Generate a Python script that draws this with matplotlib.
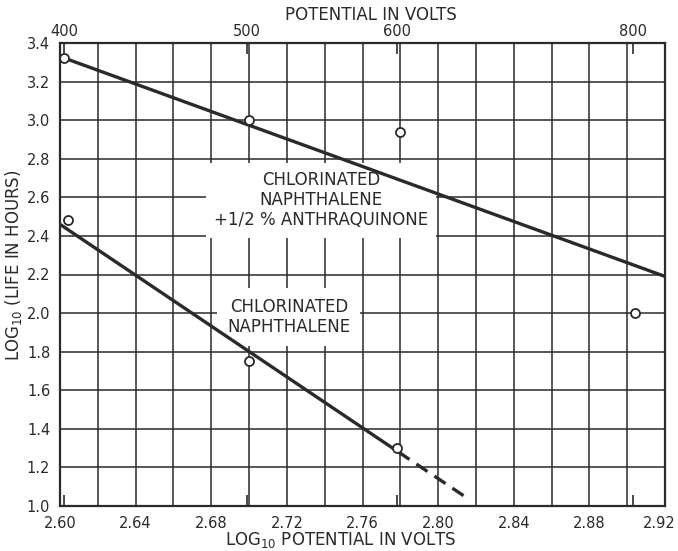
import numpy as np
import matplotlib
matplotlib.use("Agg")
import matplotlib.pyplot as plt
import matplotlib.transforms as mtransforms

# ---- data ----
# Chlorinated naphthalene + 1/2 % anthraquinone
anth_x = [2.602, 2.700, 2.780, 2.904]
anth_y = [3.32, 3.00, 2.94, 2.00]
anth_fit_x = [2.600, 2.920]
anth_fit_y = [3.33, 2.19]

# Chlorinated naphthalene
plain_x = [2.604, 2.700, 2.778]
plain_y = [2.48, 1.75, 1.30]
plain_fit_x = [2.600, 2.779]
plain_fit_y = [2.46, 1.28]
plain_ext_x = [2.779, 2.814]
plain_ext_y = [1.28, 1.05]

x_ticks = [2.60, 2.64, 2.68, 2.72, 2.76, 2.80, 2.84, 2.88, 2.92]
x_tick_labels = ["2.60", "2.64", "2.68", "2.72", "2.76", "2.80", "2.84", "2.88", "2.92"]
y_ticks = [1.0, 1.2, 1.4, 1.6, 1.8, 2.0, 2.2, 2.4, 2.6, 2.8, 3.0, 3.2, 3.4]
y_tick_labels = ["1.0", "1.2", "1.4", "1.6", "1.8", "2.0", "2.2", "2.4", "2.6", "2.8", "3.0", "3.2", "3.4"]
volts = [400, 500, 600, 800]
volt_labels = ["400", "500", "600", "800"]

# ---- style ----
ink = "#2a2a2a"
plt.rcParams['font.family'] = ['DejaVu Sans']
plt.rcParams['mathtext.fontset'] = 'dejavusans'

fig = plt.figure(figsize=(6.78, 5.51), dpi=100)
fig.patch.set_facecolor("white")
ax = fig.add_axes([60/678, 45/551, 605/678, 463/551])

ax.set_xlim(2.60, 2.92)
ax.set_ylim(1.0, 3.4)

# grid
for gx in np.arange(2.60, 2.9201, 0.02):
    ax.axvline(gx, color=ink, lw=1.1, zorder=1)
for gy in np.arange(1.0, 3.401, 0.2):
    ax.axhline(gy, color=ink, lw=1.1, zorder=1)

for s in ax.spines.values():
    s.set_color(ink)
    s.set_linewidth(1.6)
    s.set_zorder(5)

# lines
ax.plot(anth_fit_x, anth_fit_y, color=ink, lw=2.4, zorder=3, solid_capstyle='butt')
ax.plot(plain_fit_x, plain_fit_y, color=ink, lw=2.4, zorder=3, solid_capstyle='butt')
ax.plot(plain_ext_x, plain_ext_y, color=ink, lw=2.4, zorder=3, dashes=(4, 2.5))

# points
ax.plot(anth_x, anth_y, 'o', ms=6.5, mfc='white', mec=ink, mew=1.3, zorder=4, linestyle='none')
ax.plot(plain_x, plain_y, 'o', ms=6.5, mfc='white', mec=ink, mew=1.3, zorder=4, linestyle='none')

# labels with white boxes (under the curves, over the grid)
ax.text(2.738, 2.585, "CHLORINATED\nNAPHTHALENE\n+1/2 % ANTHRAQUINONE", ha='center', va='center',
        fontsize=12, color=ink, linespacing=1.15, zorder=2,
        bbox=dict(facecolor='white', edgecolor='none', boxstyle='square,pad=0.5'))
ax.text(2.721, 1.98, "CHLORINATED\nNAPHTHALENE", ha='center', va='center',
        fontsize=12, color=ink, linespacing=1.15, zorder=2,
        bbox=dict(facecolor='white', edgecolor='none', boxstyle='square,pad=0.6'))

# ticks
ax.set_xticks(x_ticks)
ax.set_xticklabels(x_tick_labels)
ax.set_yticks(y_ticks)
ax.set_yticklabels(y_tick_labels)
ax.tick_params(axis='both', length=0, labelsize=10.5, colors=ink, pad=7)
ax.set_xticks(np.log10(volts), minor=True)
ax.tick_params(axis='x', which='minor', direction='in', length=8, width=1.2, color=ink, bottom=True)
last = ax.get_xticklabels()[-1]
last.set_transform(last.get_transform() + mtransforms.ScaledTranslation(-6/100, 0, fig.dpi_scale_trans))

top = ax.secondary_xaxis('top')
top.set_xticks(np.log10(volts))
top.set_xticklabels(volt_labels)
top.tick_params(direction='in', length=8, width=1.2, colors=ink, labelsize=10.5, pad=3)
top.spines['top'].set_visible(False)

ax.set_xlabel("LOG$_{10}$ POTENTIAL IN VOLTS", fontsize=12, color=ink)
ax.xaxis.set_label_coords((341 - 60) / 605, (506 - 530) / 463)
ax.set_ylabel("LOG$_{10}$ (LIFE IN HOURS)", fontsize=12, color=ink)
ax.yaxis.set_label_coords((24 - 60) / 605, (506 - 265) / 463)
fig.text(371/678, 1 - 15/551, "POTENTIAL IN VOLTS", ha='center', va='center', fontsize=12, color=ink)

fig.savefig("out.png", dpi=100, facecolor="white")
